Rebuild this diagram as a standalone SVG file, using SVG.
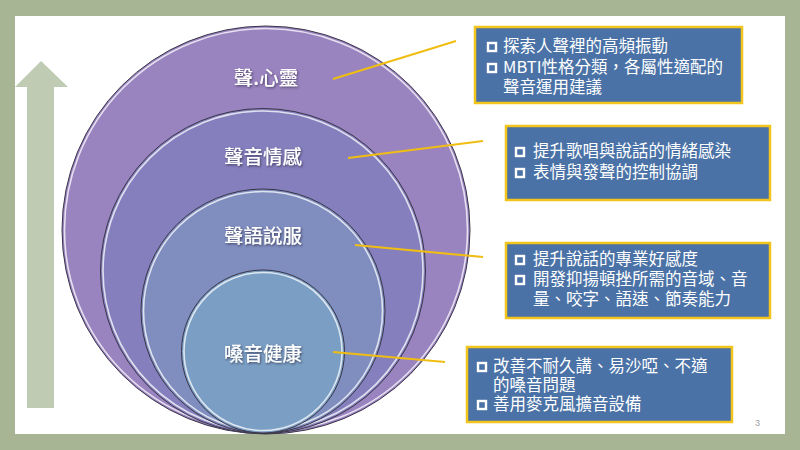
<svg xmlns="http://www.w3.org/2000/svg" width="800" height="450" viewBox="0 0 800 450" xml:lang="zh-Hant" lang="zh-Hant">
<defs>
<style>
.circ{stroke:#3a3548;stroke-width:1}
.hl{fill:none;stroke:#ffffff;stroke-width:1.6;stroke-opacity:0.75}
.lbl{font-family:"Noto Sans CJK TC","Noto Sans CJK SC",sans-serif;font-size:19.5px;fill:#ffffff;text-anchor:middle;font-weight:500;filter:url(#sh)}
.box{fill:#4a72a6;stroke:#f2c41c;stroke-width:2.5}
.bt{font-family:"Noto Sans CJK TC","Noto Sans CJK SC",sans-serif;font-size:16.5px;fill:#ffffff}
.cb{fill:none;stroke:#ffffff;stroke-width:2.4}
.conn{stroke:#f0bd12;stroke-width:2.2;fill:none}
</style>
<filter id="sh" x="-20%" y="-30%" width="140%" height="160%">
<feDropShadow dx="1" dy="1.2" stdDeviation="0.8" flood-color="#2a2040" flood-opacity="0.7"/>
</filter>
</defs>
<rect x="0" y="0" width="800" height="450" fill="#a7b594"/>
<rect x="15" y="16" width="770" height="418" fill="#ffffff"/>
<polygon points="41,61 68,87 54,87 54,408 27,408 27,87 15,87" fill="#bfcbb3"/>
<g id="n-xinling">
<circle class="circ" cx="266" cy="230" r="204" fill="#9a84c0"/>
<circle class="hl" cx="266" cy="230" r="201.5"/>
<text class="lbl" x="266" y="85">聲.心靈</text>
</g>
<g id="n-qinggan">
<circle class="circ" cx="263" cy="271" r="162.5" fill="#8580bd"/>
<circle class="hl" cx="263" cy="271" r="160"/>
<text class="lbl" x="263" y="164">聲音情感</text>
</g>
<g id="n-shuofu">
<circle class="circ" cx="263" cy="311" r="122" fill="#7f8ebf"/>
<circle class="hl" cx="263" cy="311" r="119.5"/>
<text class="lbl" x="263" y="243">聲語說服</text>
</g>
<g id="n-jiankang">
<circle class="circ" cx="263" cy="351.5" r="81.5" fill="#7b9fc4"/>
<circle class="hl" cx="263" cy="351.5" r="79"/>
<text class="lbl" x="263" y="361">嗓音健康</text>
</g>
<g id="connectors">
<line class="conn" x1="333" y1="79" x2="456" y2="41"/>
<line class="conn" x1="348" y1="158" x2="483" y2="141"/>
<line class="conn" x1="355" y1="245" x2="483" y2="257"/>
<line class="conn" x1="333" y1="352" x2="445" y2="362"/>
</g>
<g id="box1">
<rect class="box" x="475" y="27" width="267" height="76"/>
<rect class="cb" x="488" y="43" width="8" height="8"/>
<text class="bt" x="503" y="52">探索人聲裡的高頻振動</text>
<rect class="cb" x="488" y="64" width="8" height="8"/>
<text class="bt" x="503" y="73">MBTI性格分類，各屬性適配的</text>
<text class="bt" x="503" y="93">聲音運用建議</text>
</g>
<g id="box2">
<rect class="box" x="506" y="126" width="264" height="74"/>
<rect class="cb" x="516" y="148" width="8" height="8"/>
<text class="bt" x="533" y="157">提升歌唱與說話的情緒感染</text>
<rect class="cb" x="516" y="169" width="8" height="8"/>
<text class="bt" x="533" y="178">表情與發聲的控制協調</text>
</g>
<g id="box3">
<rect class="box" x="506" y="243" width="264" height="75"/>
<rect class="cb" x="516" y="256" width="8" height="8"/>
<text class="bt" x="533" y="265">提升說話的專業好感度</text>
<rect class="cb" x="516" y="276" width="8" height="8"/>
<text class="bt" x="533" y="285">開發抑揚頓挫所需的音域、音</text>
<text class="bt" x="533" y="305">量、咬字、語速、節奏能力</text>
</g>
<g id="box4">
<rect class="box" x="467" y="347" width="265" height="75"/>
<rect class="cb" x="478" y="363" width="8" height="8"/>
<text class="bt" x="493" y="372">改善不耐久講、易沙啞、不適</text>
<text class="bt" x="493" y="391">的嗓音問題</text>
<rect class="cb" x="478" y="401" width="8" height="8"/>
<text class="bt" x="493" y="410">善用麥克風擴音設備</text>
</g>
<text x="755" y="426" font-family="Liberation Sans, sans-serif" font-size="9" fill="#a0a0a0">3</text>
</svg>
